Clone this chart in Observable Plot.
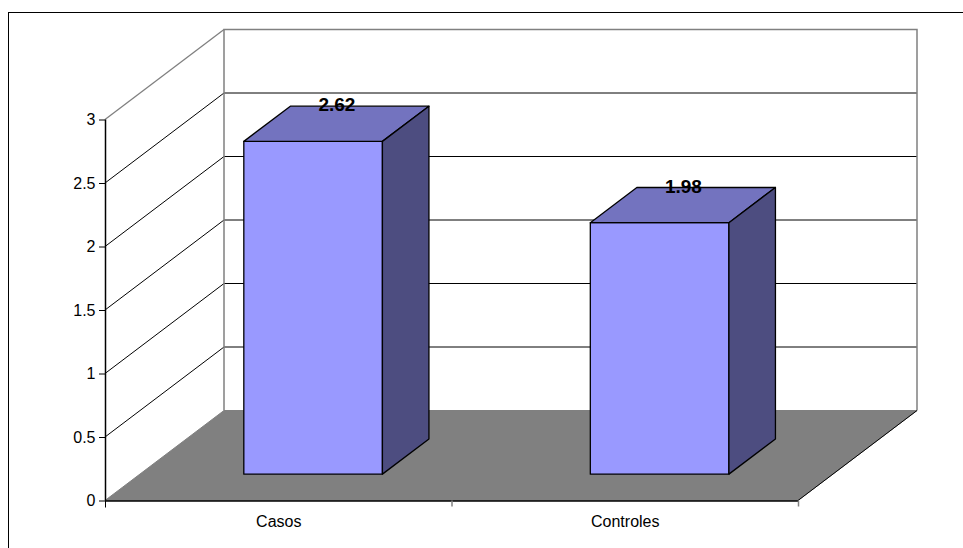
<!DOCTYPE html>
<html><head><meta charset="utf-8">
<script src="https://cdn.jsdelivr.net/npm/d3@7"></script>
<script src="https://cdn.jsdelivr.net/npm/@observablehq/plot@0.6"></script>
<style>
html,body{margin:0;padding:0;background:#fff;overflow:hidden}
#wrap{position:relative;width:963px;height:548px;overflow:hidden}
#border{position:absolute;left:8px;top:12px;width:2000px;height:2000px;border-top:1.5px solid #000;border-left:1.5px solid #000;pointer-events:none}
</style></head><body>
<div id="wrap"><div id="chart"></div><div id="border"></div></div>
<script>
// ---- data ----
const categories = ["Casos", "Controles"];
const values = [2.62, 1.98];
const valueLabels = ["2.62", "1.98"];
const yTicks = [0, 0.5, 1, 1.5, 2, 2.5, 3];
const yTickLabels = ["0", "0.5", "1", "1.5", "2", "2.5", "3"];

// ---- 3D look (pixels / fractions, not data) ----
const DX = 119, DY = 90;          // full floor depth
const F1 = 0.293, F2 = 0.684;     // bar front / back depth fractions
const BAR = 0.4;                  // bar width as fraction of category band
const FRONT = "#9999FF", TOP = "#7373BF", SIDE = "#4D4D80", FLOOR = "#808080", EDGE = "#808080";

const rows = categories.map((c, i) => ({cat: c, i, pos: i + 0.5, value: values[i], label: valueLabels[i]}));

function pathOf(pts) { return "M" + pts.map(p => p[0] + "," + p[1]).join("L") + "Z"; }
function lineOf(a, b) { return "M" + a[0] + "," + a[1] + "L" + b[0] + "," + b[1]; }

function walls(index, scales) {
  const {x, y} = scales;
  const P = (xv, yv, f) => [x(xv) + f * DX, y(yv) - f * DY];
  const g = d3.create("svg:g").attr("fill", "none");
  const yMax = yTicks[yTicks.length - 1];
  for (const v of yTicks.slice(1)) {
    g.append("path").attr("d", lineOf(P(0, v, 0), P(0, v, 1)))
      .attr("stroke", v === yMax ? EDGE : "#000").attr("stroke-width", v === yMax ? 1.3 : 1);
  }
  for (const v of yTicks.slice(1, -1)) {
    g.append("path").attr("d", lineOf(P(0, v, 1), P(2, v, 1))).attr("stroke", "#000").attr("stroke-width", 1);
  }
  g.append("path").attr("d", "M" + [P(0, 0, 1), P(0, yMax, 1), P(2, yMax, 1), P(2, 0, 1)].map(p => p.join(",")).join("L"))
    .attr("stroke", EDGE).attr("stroke-width", 1.5);
  g.append("path").attr("d", pathOf([P(0, 0, 0), P(0, 0, 1), P(2, 0, 1), P(2, 0, 0)]))
    .attr("fill", FLOOR).attr("stroke", FLOOR).attr("stroke-width", 1);
  g.append("path").attr("d", lineOf(P(2, 0, 0), P(2, 0, 1))).attr("stroke", "#000").attr("stroke-width", 1);
  return g.node();
}

function bars(index, scales) {
  const {x, y} = scales;
  const P = (xv, yv, f) => [x(xv) + f * DX, y(yv) - f * DY];
  const g = d3.create("svg:g").attr("stroke", "#000").attr("stroke-width", 1.3).attr("stroke-linejoin", "round");
  for (const r of rows) {
    const x1 = r.pos - BAR / 2, x2 = r.pos + BAR / 2, v = r.value;
    g.append("path").attr("fill", FRONT).attr("d", pathOf([P(x1, 0, F1), P(x1, v, F1), P(x2, v, F1), P(x2, 0, F1)]));
    g.append("path").attr("fill", TOP).attr("d", pathOf([P(x1, v, F1), P(x1, v, F2), P(x2, v, F2), P(x2, v, F1)]));
    g.append("path").attr("fill", SIDE).attr("d", pathOf([P(x2, 0, F1), P(x2, v, F1), P(x2, v, F2), P(x2, 0, F2)]));
  }
  return g.node();
}

const chart = Plot.plot({
  width: 963,
  height: 548,
  marginLeft: 105,
  marginRight: 165,
  marginTop: 119.5,
  marginBottom: 47.5,
  style: {fontFamily: "Arial, 'Liberation Sans', sans-serif", fontSize: "16px", background: "transparent", overflow: "visible"},
  x: {type: "linear", domain: [0, categories.length]},
  y: {domain: [0, 3]},
  marks: [
    walls,
    Plot.axisY({ticks: yTicks, tickSize: 6, tickPadding: 4, fontSize: 16, label: null,
      tickFormat: v => yTickLabels[yTicks.indexOf(v)]}),
    Plot.ruleX([0], {y1: 0, y2: 3, stroke: "#000", strokeWidth: 1.5}),
    Plot.ruleY([0], {x1: 0, x2: categories.length, stroke: "#000", strokeWidth: 1.5}),
    Plot.axisX({ticks: [0], tickSize: 7, tickFormat: () => "", stroke: "#000", label: null}),
    Plot.axisX({ticks: d3.range(1, categories.length + 1), tickSize: 6, tickFormat: () => "", stroke: "#808080", strokeWidth: 1.5, label: null}),
    Plot.axisX({ticks: rows.map(r => r.pos), tickSize: 0, tickPadding: 15, fontSize: 16, tickFormat: v => categories[Math.floor(v)], label: null}),
    bars,
    Plot.text(rows, {x: "pos", y: "value", text: "label", dx: (F1 + F2) / 2 * DX, dy: -F2 * DY - 1.5,
      fontWeight: "bold", fontSize: 19, lineAnchor: "middle", textAnchor: "middle", fill: "#000"})
  ]
});
document.getElementById("chart").appendChild(chart);
</script>
</body></html>
